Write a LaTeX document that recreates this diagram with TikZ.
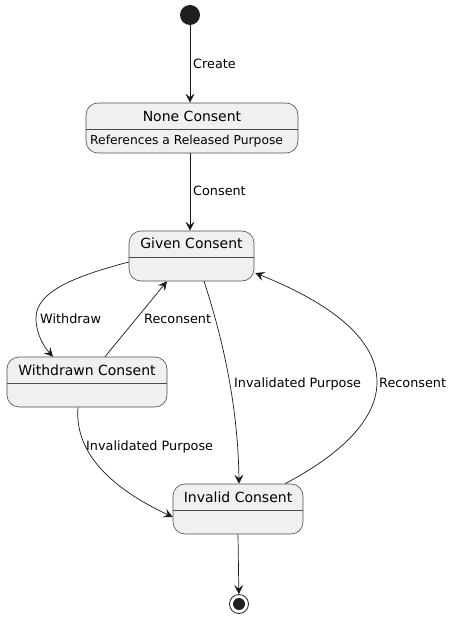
\documentclass[tikz,border=0pt]{standalone}
\usepackage{fontspec}
\setmainfont{DejaVu Sans}
\usetikzlibrary{arrows.meta}
\begin{document}
\begin{tikzpicture}[x=1pt,y=-1pt,
    state/.style ={draw=black!70, fill=black!6, rounded corners=12pt, line width=0.6pt, minimum height=50pt, inner sep=0pt},
    title/.style ={font=\fontsize{14}{16}\selectfont, inner sep=0pt},
    trans/.style ={draw=black!90, line width=0.7pt, -{Stealth[length=9pt,width=9pt,inset=3.5pt]}},
    lbl/.style ={font=\fontsize{12.8}{15}\selectfont, inner sep=0pt, anchor=base west}]
   \useasboundingbox (0,0) rectangle (453,620);
   \node[circle, fill=black!88, minimum size=20pt, inner sep=0pt] (start) at (190,15) {};
   \node[state, minimum width=212pt] (none) at (192,128) {};
   \node[state, minimum width=125pt] (given) at (191.5,256) {};
   \node[state, minimum width=160pt] (withdrawn) at (87,382) {};
   \node[state, minimum width=130pt] (invalid) at (238,509) {};
   \node[circle, draw=black!88, line width=0.8pt, minimum size=19pt, inner sep=0pt] (stop) at (239,604) {};
   \node[circle, fill=black!88, minimum size=12pt, inner sep=0pt] (stopdot) at (239,604) {};
   \draw[black!70, line width=0.6pt] ([yshift=-1pt]none.west) -- ([yshift=-1pt]none.east);
   \draw[black!70, line width=0.6pt] ([yshift=-1pt]given.west) -- ([yshift=-1pt]given.east);
   \draw[black!70, line width=0.6pt] ([yshift=-1pt]withdrawn.west) -- ([yshift=-1pt]withdrawn.east);
   \draw[black!70, line width=0.6pt] ([yshift=-1pt]invalid.west) -- ([yshift=-1pt]invalid.east);
   \node[title] (noneT) at (192,116) {None Consent};
   \node[font=\fontsize{12.3}{14}\selectfont, inner sep=0pt, anchor=base west] (noneD) at (90,145) {References a Released Purpose};
   \node[title] (givenT) at (191.5,243) {Given Consent};
   \node[title] (withdrawnT) at (87,370) {Withdrawn Consent};
   \node[title] (invalidT) at (238,497) {Invalid Consent};
   \draw[trans] (start) -- (start |- none.north);
   \node[lbl] (createL) at (193,69) {Create};
   \draw[trans] (start |- none.south) -- (start |- given.north);
   \node[lbl] (consentL) at (193,196) {Consent};
   \draw[trans] ([yshift=-6pt]given.west) .. controls (80,275) and (36,290) .. (36,318)
      .. controls (36,335) and (45,348) .. ([xshift=-34pt]withdrawn.north);
   \node[lbl] (withdrawL) at (40,323) {Withdraw};
   \draw[trans] ([xshift=18pt]withdrawn.north) -- ([xshift=-24.5pt]given.south);
   \node[lbl] (reconsentL) at (144,323) {Reconsent};
   \draw[trans] ([xshift=12.5pt]given.south) .. controls (220,330) and (238,400) .. ([xshift=1pt]invalid.north);
   \node[lbl] (invalidAL) at (234,387) {Invalidated Purpose};
   \draw[trans] ([xshift=-9pt]withdrawn.south) .. controls (74,455) and (115,490) .. ([yshift=-8pt]invalid.west);
   \node[lbl] (invalidBL) at (86,450) {Invalidated Purpose};
   \draw[trans] ([xshift=47pt]invalid.north) .. controls (330,460) and (377,425) .. (377,382)
      .. controls (377,330) and (310,295) .. ([xshift=1pt,yshift=-17pt]given.east);
   \node[lbl] (reconsentR) at (379,387) {Reconsent};
   \draw[trans] (invalid.south) -- (stop);
 \end{tikzpicture}
\end{document}
